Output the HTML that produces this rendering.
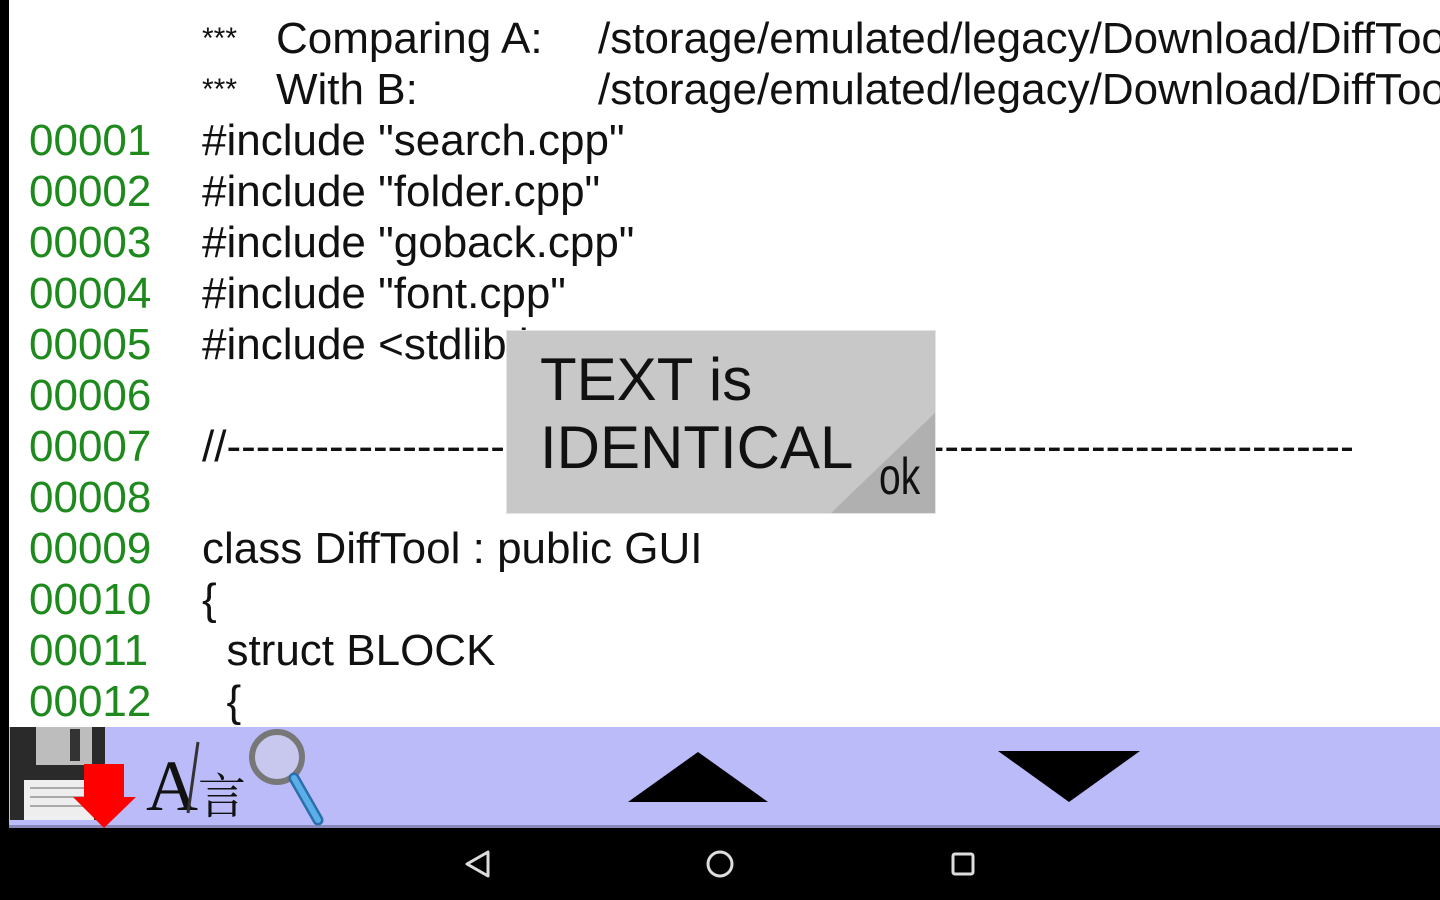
<!DOCTYPE html>
<html><head><meta charset="utf-8"><style>
html,body{margin:0;padding:0;width:1440px;height:900px;overflow:hidden;background:#fff;position:relative;font-family:"Liberation Sans",Arial,sans-serif;}
.r{position:absolute;font-size:44px;line-height:51px;white-space:pre;color:#111;}
.n{color:#1e8a1e;}
.s{font-size:30px;vertical-align:10px;}
</style></head><body>
<div style="position:absolute;left:0;top:0;width:9px;height:828px;background:#000"></div>
<div class="r" style="left:202px;top:13px"><span class="s">***</span></div>
<div class="r" style="left:276px;top:13px">Comparing A:</div>
<div class="r" style="left:598px;top:13px">/storage/emulated/legacy/Download/DiffTool</div>
<div class="r" style="left:202px;top:64px"><span class="s">***</span></div>
<div class="r" style="left:276px;top:64px">With B:</div>
<div class="r" style="left:598px;top:64px">/storage/emulated/legacy/Download/DiffTool</div>

<div class="r n" style="left:29px;top:115px">00001</div><div class="r" style="left:202px;top:115px">#include "search.cpp"</div>
<div class="r n" style="left:29px;top:166px">00002</div><div class="r" style="left:202px;top:166px">#include "folder.cpp"</div>
<div class="r n" style="left:29px;top:217px">00003</div><div class="r" style="left:202px;top:217px">#include "goback.cpp"</div>
<div class="r n" style="left:29px;top:268px">00004</div><div class="r" style="left:202px;top:268px">#include "font.cpp"</div>
<div class="r n" style="left:29px;top:319px">00005</div><div class="r" style="left:202px;top:319px">#include &lt;stdlib.h&gt;</div>
<div class="r n" style="left:29px;top:370px">00006</div>
<div class="r n" style="left:29px;top:421px">00007</div><div class="r" style="left:202px;top:421px">//----------------------------------------------------------------------------------</div>
<div class="r n" style="left:29px;top:472px">00008</div>
<div class="r n" style="left:29px;top:523px">00009</div><div class="r" style="left:202px;top:523px">class DiffTool : public GUI</div>
<div class="r n" style="left:29px;top:574px">00010</div><div class="r" style="left:202px;top:574px">{</div>
<div class="r n" style="left:29px;top:625px">00011</div><div class="r" style="left:202px;top:625px">  struct BLOCK</div>
<div class="r n" style="left:29px;top:676px">00012</div><div class="r" style="left:202px;top:676px">  {</div>
<div style="position:absolute;left:1352px;top:400px;width:88px;height:100px;background:#fff"></div>

<!-- dialog -->
<div style="position:absolute;left:506px;top:330px;width:430px;height:184px;background:#c8c8c8;border:1px solid #e4e4e4;box-sizing:border-box;overflow:hidden">
<svg width="430" height="184" style="position:absolute;left:0;top:0"><polygon points="322,184 430,184 430,80" fill="#b0b0b0"/></svg>
<div style="position:absolute;left:33px;top:15px;font-size:60px;line-height:68px;color:#111">TEXT is<br>IDENTICAL</div>
<div style="position:absolute;left:372px;top:116px;font-size:52px;line-height:60px;color:#111;transform:scaleX(0.75);transform-origin:left">ok</div>
</div>

<!-- toolbar -->
<div style="position:absolute;left:9px;top:727px;width:1431px;height:101px;background:#bbbbfa;border-bottom:3px solid #8888bb;box-sizing:border-box"></div>
<svg style="position:absolute;left:0;top:720px" width="1440" height="180">
<rect x="10" y="7" width="95" height="93" fill="#2a2a2a"/>
<rect x="36" y="7" width="56" height="38" fill="#bdbdbd"/>
<rect x="70" y="9" width="10" height="32" fill="#333"/>
<rect x="24" y="60" width="70" height="40" fill="#eee"/>
<line x1="30" y1="68" x2="90" y2="68" stroke="#aaa" stroke-width="2"/>
<line x1="30" y1="77" x2="90" y2="77" stroke="#aaa" stroke-width="2"/>
<line x1="30" y1="86" x2="90" y2="86" stroke="#aaa" stroke-width="2"/>
<polygon points="84,44 124,44 124,77 136,77 104,108 73,77 84,77" fill="#ff0000"/>
<text x="146" y="90" font-family="Liberation Serif,serif" font-size="72" fill="#111">A</text>
<line x1="198" y1="22" x2="188" y2="93" stroke="#333" stroke-width="3"/>
<text x="198" y="93" font-family="Liberation Serif,Noto Serif CJK SC,serif" font-size="48" fill="#111">言</text>
<circle cx="277" cy="37" r="25" fill="#c8c8ee" stroke="#777" stroke-width="6"/>
<line x1="294" y1="58" x2="318" y2="100" stroke="#2a6fa8" stroke-width="11" stroke-linecap="round"/>
<line x1="294" y1="58" x2="318" y2="100" stroke="#5aaeea" stroke-width="6" stroke-linecap="round"/>
<polygon points="628,82 768,82 698,32" fill="#000"/>
<polygon points="998,31 1140,31 1069,82" fill="#000"/>
</svg>
<div style="position:absolute;left:0;top:828px;width:1440px;height:72px;background:#000"></div>
<svg style="position:absolute;left:0;top:828px" width="1440" height="72">
<polygon points="488,24 488,48 467,36" fill="none" stroke="#ddd" stroke-width="3" stroke-linejoin="round"/>
<circle cx="720" cy="36" r="12" fill="none" stroke="#ddd" stroke-width="3"/>
<rect x="953" y="26" width="20" height="20" rx="2" fill="none" stroke="#ddd" stroke-width="3"/>
</svg>
</body></html>
